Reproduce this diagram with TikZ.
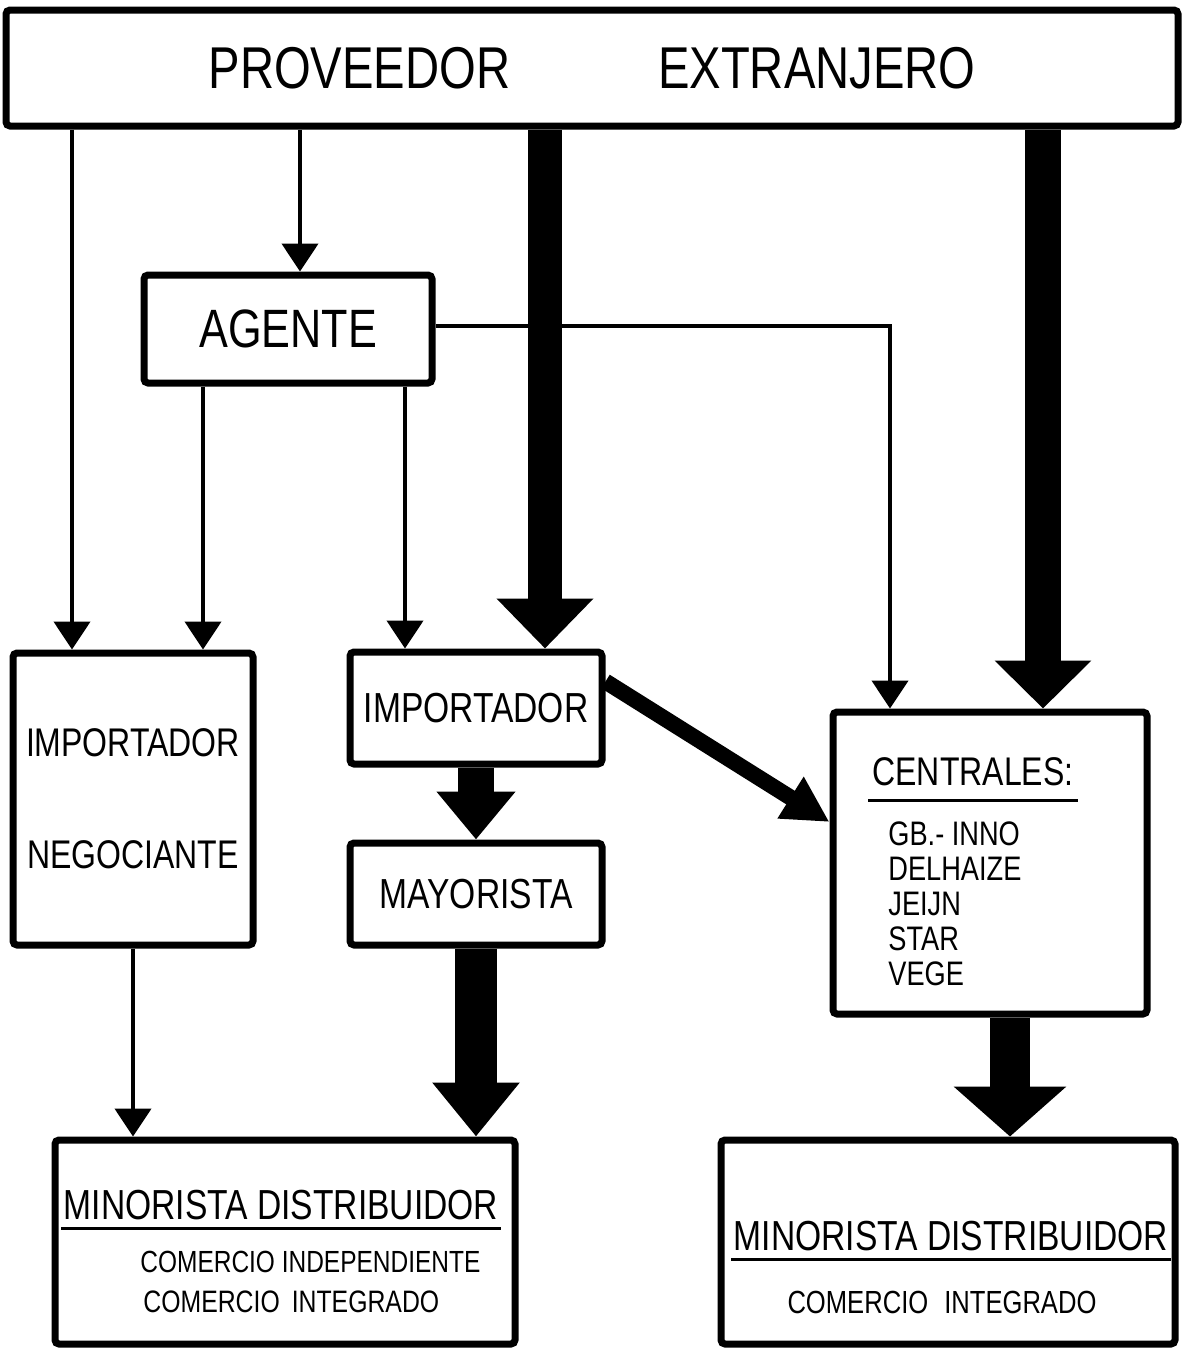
\documentclass[tikz,border=0pt]{standalone}
\usepackage{fontspec}
\setmainfont{Liberation Sans}[FakeStretch=0.8]
\usetikzlibrary{arrows.meta,calc}

\tikzset{
	caja/.style={draw, line width=3.5pt, rounded corners=2pt, inner sep=0pt},
	fina/.style={line width=2.2pt, -{Triangle[width=18pt,length=14pt]}},
	gruesa/.style args={#1/#2/#3}{line width=#1, -{Triangle[width=#2,length=#3]}},
	subraya/.style={line width=1.6pt}
}

\begin{document}
\begin{tikzpicture}[x=0.5pt,y=-0.5pt]
	\useasboundingbox (0,0) rectangle (1182,1357);
		\node[caja, minimum width=586pt, minimum height=58pt, font=\fontsize{29.5}{31}\selectfont] (prov) at (592,68) {PROVEEDOR\hspace{74pt}EXTRANJERO\hspace{24pt}};
		\node[caja, minimum width=144pt, minimum height=54pt, font=\fontsize{27}{30}\selectfont] (agente) at (288,329) {AGENTE};
		\node[caja, minimum width=120pt, minimum height=146pt, align=center, font=\fontsize{20}{22}\selectfont] (impneg) at (133,799) {IMPORTADOR\\[34pt]NEGOCIANTE};
		\node[caja, minimum width=126pt, minimum height=56pt, font=\fontsize{21}{24}\selectfont] (imp) at (476,708) {IMPORTADOR};
		\node[caja, minimum width=126pt, minimum height=51pt, font=\fontsize{21}{24}\selectfont] (may) at (476,894) {MAYORISTA};
		\node[caja, minimum width=157pt, minimum height=151pt] (cent) at (990,863) {};
		\node[caja, minimum width=230pt, minimum height=102pt] (minL) at (285,1242) {};
		\node[caja, minimum width=227pt, minimum height=102pt] (minR) at (948,1242) {};
	% textos de las cajas
		\node[inner xsep=2pt, inner ysep=0pt, font=\fontsize{20}{22}\selectfont] (centT) at (973,772) {CENTRALES:};
		\node[inner sep=0pt, anchor=north west, align=left, font=\fontsize{17}{17.5}\selectfont] (centL) at (888,821) {GB.- INNO\\DELHAIZE\\JEIJN\\STAR\\VEGE};
		\node[inner xsep=1pt, inner ysep=0pt, font=\fontsize{21}{24}\selectfont] (minLT) at (281,1205) {MINORISTA DISTRIBUIDOR};
		\node[inner sep=0pt, anchor=west, font=\fontsize{15.3}{18}\selectfont] (minLa) at (140,1262) {COMERCIO INDEPENDIENTE};
		\node[inner sep=0pt, anchor=west, font=\fontsize{15.5}{18}\selectfont] (minLb) at (143,1302) {COMERCIO\hspace{6pt}INTEGRADO};
		\node[inner xsep=1pt, inner ysep=0pt, font=\fontsize{21}{24}\selectfont] (minRT) at (951,1236) {MINORISTA DISTRIBUIDOR};
		\node[inner sep=0pt, font=\fontsize{16}{18}\selectfont] (minRa) at (942,1302) {COMERCIO\hspace{8pt}INTEGRADO};
		\draw[subraya] ([yshift=-7pt]centT.south west) -- ([yshift=-7pt]centT.south east);
		\draw[subraya] ([yshift=-4pt]minLT.south west) -- ([yshift=-4pt]minLT.south east);
		\draw[subraya] ([yshift=-4pt]minRT.south west) -- ([yshift=-4pt]minRT.south east);
	% puntos de llegada
		\coordinate (a1) at ($(impneg.north)+(-61,0)$);
		\coordinate (a2) at ($(agente.north)+(12,0)$);
		\coordinate (a3) at ($(imp.north)+(69,0)$);
		\coordinate (a4) at ($(cent.north)+(53,0)$);
		\coordinate (a5) at ($(impneg.north)+(70,0)$);
		\coordinate (a6) at ($(imp.north)+(-71,0)$);
		\coordinate (a7) at ($(cent.north)+(-100,0)$);
		\coordinate (a8) at ($(imp.north east)+(0,33)$);
		\coordinate (a9) at ($(cent.west)+(0,-41)$);
		\coordinate (a10) at ($(cent.south)+(20,0)$);
	%	\tikzset{fina/.append style = {dashed}}
		\draw[fina] (prov.south -| a1) -- (a1);
		\draw[fina] (prov.south -| a2) -- (a2);
		\draw[gruesa=17pt/47pt/25pt] (prov.south -| a3) -- (a3);
		\draw[gruesa=18pt/47pt/24pt] (prov.south -| a4) -- (a4);
		\draw[fina] (agente.south -| a5) -- (a5);
		\draw[fina] (agente.south -| a6) -- (a6);
		\draw[fina] ($(agente.east)+(0,-3)$) -| (a7);
		\draw[gruesa=18pt/38pt/24pt] (imp.south) -- (may.north);
		\draw[gruesa=8pt/23pt/23pt] (a8) -- (a9);
		\draw[fina] (impneg.south) -- (impneg.south |- minL.north);
		\draw[gruesa=21pt/42pt/27pt] (may.south) -- (may.south |- minL.north);
		\draw[gruesa=20pt/55pt/25pt] (a10) -- (a10 |- minR.north);
	\end{tikzpicture}
\end{document}
